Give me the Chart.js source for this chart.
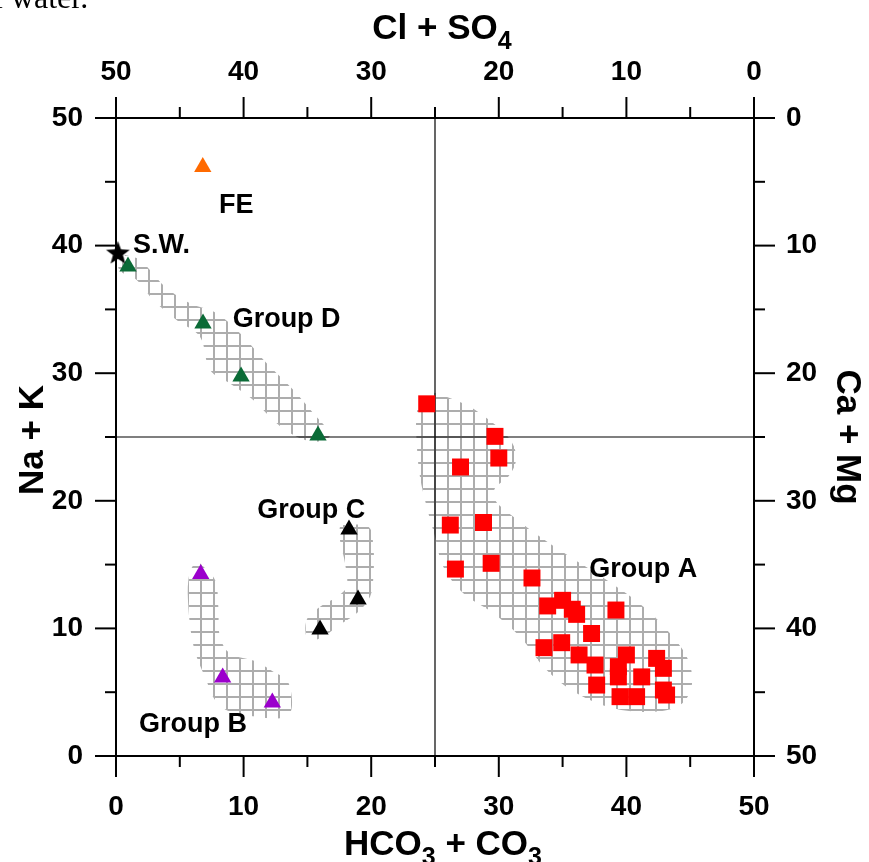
<!DOCTYPE html>
<html>
<head>
<meta charset="utf-8">
<title>Na + K vs HCO3 + CO3</title>
<script src="https://cdn.jsdelivr.net/npm/chart.js@4.4.1/dist/chart.umd.min.js"></script>
<style>
  html, body { margin: 0; padding: 0; background: #fff; }
  #plot { display: block; }
</style>
</head>
<body>
<canvas id="plot" width="869" height="862"></canvas>
<script>
// axes: all four run 0..50 (meq %), top and right ones reversed
const AXIS_MIN = 0, AXIS_MAX = 50;
const MAJOR_STEP = 10, MINOR_STEP = 5;
const DIVIDE = 25;

// samples: x = HCO3 + CO3, y = Na + K
const groupAX = [24.35, 29.7, 30.0, 27.0, 26.2, 28.8, 26.6, 29.4, 32.6, 33.83, 35.0, 35.76, 36.1, 39.18, 37.27,
                 33.54, 34.93, 36.29, 37.54, 37.67, 39.37, 40.0, 39.37, 39.5, 40.8, 41.2, 42.37, 42.9, 42.9, 43.15];
const groupAY = [27.6, 25.05, 23.35, 22.65, 18.1, 18.3, 14.65, 15.1, 13.95, 11.76, 12.2, 11.5, 11.1, 11.44, 9.6,
                 8.49, 8.88, 7.92, 7.13, 5.56, 7.0, 7.92, 6.2, 4.65, 4.65, 6.2, 7.65, 6.87, 5.17, 4.78];
const groupBX = [6.64, 8.36, 12.25];
const groupBY = [14.26, 6.15, 4.19];
const groupCX = [18.26, 18.97, 15.99];
const groupCY = [17.75, 12.26, 9.91];
const groupDX = [0.94, 6.82, 9.8, 15.83];
const groupDY = [38.36, 33.9, 29.74, 25.12];
const feX = [6.8];
const feY = [46.16];
const swX = [0.15];
const swY = [39.45];

// envelopes around each group (hatched areas)
const envAX = [25.0, 27.48, 29.57, 31.0, 31.35, 30.75, 29.7, 29.7, 31.14, 33.23, 35.58, 38.45, 41.33, 43.42, 44.85, 45.11,
               44.2, 42.1, 38.97, 36.1, 33.75, 31.66, 29.57, 27.22, 25.65, 25.0, 24.35, 23.82, 23.57, 23.57, 24.08];
const envAY = [28.47, 27.5, 26.07, 24.63, 23.2, 21.9, 20.98, 20.06, 18.75, 17.19, 15.62, 13.79, 11.7, 9.61, 7.52, 5.43,
               4.0, 3.47, 3.74, 4.91, 6.74, 9.35, 11.18, 12.75, 14.84, 17.19, 19.54, 21.89, 24.5, 26.86, 28.16];
const envBX = [6.58, 7.76, 8.02, 8.15, 8.93, 11.03, 12.33, 13.38, 13.77, 13.64, 12.85, 11.03, 8.93, 7.76, 6.97, 6.32, 5.93, 5.67, 5.67, 6.06];
const envBY = [15.1, 13.79, 11.7, 9.35, 8.05, 7.39, 6.61, 5.96, 4.65, 3.35, 2.95, 3.08, 3.47, 4.39, 6.21, 7.78, 9.35, 11.7, 13.79, 14.97];
const envCX = [17.82, 19.78, 20.17, 20.17, 19.91, 18.86, 17.3, 16.25, 15.07, 14.94, 15.99, 17.3, 18.08, 17.95, 17.55, 17.55];
const envCY = [18.1, 17.97, 16.4, 14.05, 12.49, 11.18, 10.13, 9.35, 9.09, 10.66, 11.7, 12.49, 13.27, 15.1, 16.93, 17.97];
const envDX = [0.71, 1.88, 3.84, 5.8, 7.89, 9.98, 11.81, 13.9, 15.46, 16.77, 15.73, 14.16, 12.59, 10.76, 8.93, 7.37, 6.58, 4.75, 2.92, 1.62, 0.57, 0.18];
const envDY = [39.26, 38.87, 36.78, 35.48, 34.69, 32.86, 30.77, 28.68, 26.86, 25.16, 24.63, 25.02, 26.07, 27.9, 29.2, 30.25, 32.86, 34.17, 35.74, 37.3, 37.83, 38.35];

// group names, anchored (left, baseline) in data units
const noteText = ['FE', 'S.W.', 'Group D', 'Group C', 'Group B', 'Group A'];
const noteX = [8.07, 1.33, 9.14, 11.07, 1.8, 37.09];
const noteY = [42.55, 39.4, 33.65, 18.63, 1.88, 14.05];

const FONT = '"Liberation Sans", Arial, Helvetica, sans-serif';
const HATCH_CELL = 13;

const toPoints = (xs, ys) => xs.map((x, i) => ({ x, y: ys[i] }));
const closed = (xs, ys) => { const p = toPoints(xs, ys); p.push(p[0]); return p; };

const canvas = document.getElementById('plot');
const ctx = canvas.getContext('2d');

// grey square-grid hatch
const tile = document.createElement('canvas');
tile.width = HATCH_CELL; tile.height = HATCH_CELL;
const tctx = tile.getContext('2d');
tctx.fillStyle = '#adadad';
tctx.fillRect(0, 0, 2, HATCH_CELL);
tctx.fillRect(0, 0, HATCH_CELL, 2);
const hatch = ctx.createPattern(tile, 'repeat');

// filled five-point star for sea water
function starImage(r) {
  const c = document.createElement('canvas');
  const s = Math.ceil(r * 2 + 2);
  c.width = s; c.height = s;
  const g = c.getContext('2d');
  g.translate(s / 2, s / 2 + 1);
  g.beginPath();
  for (let i = 0; i < 10; i++) {
    const rad = i % 2 === 0 ? r : r * 0.42;
    const a = -Math.PI / 2 + i * Math.PI / 5;
    g.lineTo(Math.cos(a) * rad, Math.sin(a) * rad);
  }
  g.closePath();
  g.fillStyle = '#000';
  g.fill();
  return c;
}

function envelope(xs, ys) {
  return {
    type: 'line', data: closed(xs, ys), xAxisID: 'x', yAxisID: 'y',
    fill: 'shape', backgroundColor: hatch, borderColor: 'rgba(0,0,0,0)', borderWidth: 0,
    pointRadius: 0, tension: 0.35, order: 2
  };
}

function markers(xs, ys, style, color, radius) {
  return {
    type: 'scatter', data: toPoints(xs, ys), xAxisID: 'x', yAxisID: 'y',
    pointStyle: style, pointRadius: radius, pointHoverRadius: radius,
    backgroundColor: color, borderWidth: 0, clip: false, order: 0
  };
}

function divider(points) {
  return {
    type: 'line', data: points, xAxisID: 'x', yAxisID: 'y',
    borderColor: '#000', borderWidth: 1.2, pointRadius: 0, fill: false, order: 1
  };
}

const tickFont = { family: FONT, size: 28, weight: 'bold' };

function axis(position, reverse, padding, size) {
  return {
    type: 'linear', position, reverse, min: AXIS_MIN, max: AXIS_MAX,
    grid: { display: false, drawTicks: false },
    border: { display: false },
    ticks: { stepSize: MAJOR_STEP, color: '#000', font: tickFont, padding, autoSkip: false, maxRotation: 0 },
    afterFit(scale) {
      if (scale.isHorizontal()) scale.height = size; else scale.width = size;
    }
  };
}

// line helper
function seg(c, x1, y1, x2, y2) {
  c.beginPath(); c.moveTo(x1, y1); c.lineTo(x2, y2); c.stroke();
}

// align hatch with the 25/25 divider
const hatchAlign = {
  id: 'hatchAlign',
  beforeDatasetsDraw(chart) {
    const px = chart.scales.x.getPixelForValue(DIVIDE);
    const py = chart.scales.y.getPixelForValue(DIVIDE);
    hatch.setTransform(new DOMMatrix([1, 0, 0, 1, (px % HATCH_CELL) - 1, (py % HATCH_CELL) - 1]));
  }
};

// box frame with outward major/minor ticks on all four sides
const frameTicks = {
  id: 'frameTicks',
  afterDatasetsDraw(chart) {
    const { ctx: c, chartArea: a, scales } = chart;
    c.save();
    c.strokeStyle = '#000';
    c.lineWidth = 2;
    c.lineCap = 'square';
    c.strokeRect(a.left, a.top, a.right - a.left, a.bottom - a.top);
    c.lineCap = 'butt';
    for (let v = AXIS_MIN; v <= AXIS_MAX; v += MINOR_STEP) {
      const len = v % MAJOR_STEP === 0 ? 21 : 11;
      const bx = scales.x.getPixelForValue(v);
      const tx = scales.xTop.getPixelForValue(v);
      const ly = scales.y.getPixelForValue(v);
      const ry = scales.yRight.getPixelForValue(v);
      seg(c, bx, a.bottom, bx, a.bottom + len);
      seg(c, tx, a.top, tx, a.top - len);
      seg(c, a.left, ly, a.left - len, ly);
      seg(c, a.right, ry, a.right + len, ry);
    }
    c.restore();
  }
};

// text with subscript parts: [[text, isSub], ...], centred on (cx, baseline)
function subText(c, parts, cx, base) {
  const main = 'bold 35px ' + FONT, sub = 'bold 25px ' + FONT;
  let total = 0;
  parts.forEach(([t, s]) => { c.font = s ? sub : main; total += c.measureText(t).width; });
  let x = cx - total / 2;
  c.textAlign = 'left';
  c.textBaseline = 'alphabetic';
  parts.forEach(([t, s]) => {
    c.font = s ? sub : main;
    c.fillText(t, x, s ? base + 10 : base);
    x += c.measureText(t).width;
  });
}

const labelsTitles = {
  id: 'labelsTitles',
  afterDraw(chart) {
    const { ctx: c, chartArea: a, scales } = chart;
    c.save();
    c.fillStyle = '#000';

    // group names
    c.font = 'bold 27px ' + FONT;
    c.textAlign = 'left';
    c.textBaseline = 'alphabetic';
    noteText.forEach((t, i) => {
      c.fillText(t, scales.x.getPixelForValue(noteX[i]), scales.y.getPixelForValue(noteY[i]));
    });

    const cx = (a.left + a.right) / 2;
    const cy = (a.top + a.bottom) / 2;
    subText(c, [['Cl + SO', false], ['4', true]], cx + 7, a.top - 79);
    subText(c, [['HCO', false], ['3', true], [' + CO', false], ['3', true]], cx + 8, a.bottom + 99);

    c.save();
    c.translate(a.left - 73, cy + 3);
    c.rotate(-Math.PI / 2);
    subText(c, [['Na + K', false]], 0, 0);
    c.restore();

    c.save();
    c.translate(a.right + 83, cy);
    c.rotate(Math.PI / 2);
    subText(c, [['Ca + Mg', false]], 0, 0);
    c.restore();

    // tail of the caption line above the figure
    c.font = '32px "Liberation Serif", "Times New Roman", serif';
    c.textAlign = 'left';
    c.fillText('l water.', -6, 8);
    c.restore();
  }
};

new Chart(ctx, {
  type: 'scatter',
  data: {
    datasets: [
      markers(swX, swY, starImage(12.5), '#000', 12),
      markers(feX, feY, 'triangle', '#ff6a00', 10),
      markers(groupDX, groupDY, 'triangle', '#0b6b37', 10),
      markers(groupCX, groupCY, 'triangle', '#000', 10),
      markers(groupBX, groupBY, 'triangle', '#9b00cc', 10),
      markers(groupAX, groupAY, 'rect', '#ff0000', 12),
      divider([{ x: DIVIDE, y: AXIS_MIN }, { x: DIVIDE, y: AXIS_MAX }]),
      divider([{ x: AXIS_MIN, y: DIVIDE }, { x: AXIS_MAX, y: DIVIDE }]),
      envelope(envAX, envAY),
      envelope(envBX, envBY),
      envelope(envCX, envCY),
      envelope(envDX, envDY)
    ]
  },
  options: {
    responsive: false,
    devicePixelRatio: 1,
    animation: false,
    layout: { padding: 0 },
    plugins: { legend: { display: false }, tooltip: { enabled: false } },
    scales: {
      x: axis('bottom', false, 34, 106),
      xTop: axis('top', true, 29, 118),
      y: axis('left', false, 33, 116),
      yRight: axis('right', true, 32, 115)
    }
  },
  plugins: [hatchAlign, frameTicks, labelsTitles]
});
</script>
</body>
</html>
